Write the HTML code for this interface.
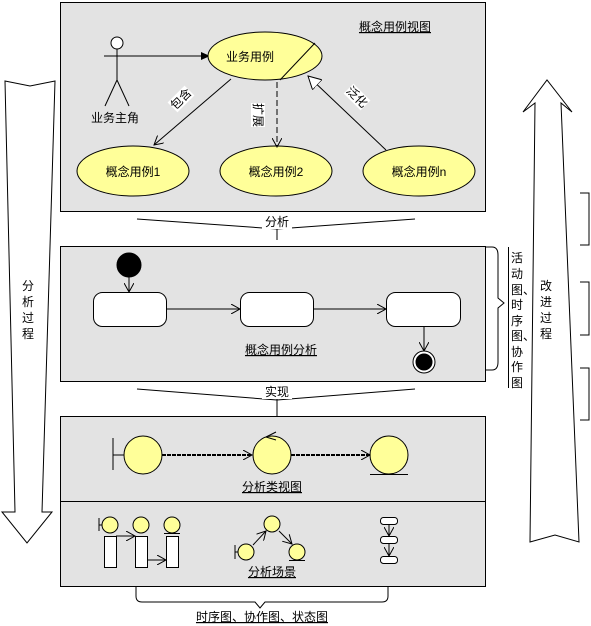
<!DOCTYPE html>
<html><head><meta charset="utf-8"><style>
body{margin:0;background:#fff}
svg{display:block}
text{font-family:"Liberation Sans","Noto Sans CJK SC","WenQuanYi Zen Hei",sans-serif;font-size:12px;fill:#000}
</style></head><body>
<svg width="591" height="626" viewBox="0 0 591 626" xmlns="http://www.w3.org/2000/svg">
<defs>
<marker id="op" markerWidth="10" markerHeight="10" refX="9" refY="5" orient="auto" markerUnits="userSpaceOnUse"><path d="M0,0 L9,5 L0,10" fill="none" stroke="#000"/></marker>
<marker id="fl" markerWidth="10" markerHeight="10" refX="9" refY="5" orient="auto" markerUnits="userSpaceOnUse"><path d="M0,1 L9,5 L0,9z" fill="#000"/></marker>
<marker id="tri" markerWidth="14" markerHeight="14" refX="13" refY="7" orient="auto" markerUnits="userSpaceOnUse"><path d="M0,0 L13,7 L0,14z" fill="#fff" stroke="#000"/></marker>
</defs>
<g stroke="#000" fill="none">
<!-- left arrow -->
<path d="M5,81 L30,86 L55,81 L42,512 L52,512 L27,543 L2,512 L15,512 Z" fill="#fff"/>
<!-- right arrow -->
<path d="M530,542 L555,535 L579,542 L561,103 L572,112 L547,80 L523,112 L535,103 Z" fill="#fff"/>
<!-- panels -->
<rect x="60.5" y="2.5" width="425" height="209" fill="#e3e3e3"/>
<rect x="60.5" y="246.5" width="425" height="135" fill="#e3e3e3"/>
<rect x="60.5" y="416.5" width="425" height="170" fill="#e3e3e3"/>
<line x1="60" y1="501.5" x2="486" y2="501.5"/>
<!-- funnels -->
<path d="M137,219 L277,229 L415,219 M277,229 L277,240"/>
<path d="M137,389 L277,400 L415,389 M277,386 L277,416"/>
<!-- right brackets -->
<path d="M580,193 H589 V245 H580 M580,282 H589 V335 H580 M580,368 H589 V420 H580"/>
<!-- brace -->
<path d="M486,247 H492 Q498,247 498,255 V298 L504,303 L498,308 V362 Q498,370 492,370 H486"/>
<line x1="508.5" y1="247" x2="508.5" y2="388"/>
<!-- bottom brace -->
<path d="M136,587 V596 Q136,602 142,602 H255 L260,608 L265,602 H382 Q388,602 388,596 V587"/>
<!-- actor -->
<circle cx="117" cy="43" r="6" fill="#fff"/>
<path d="M117,49 V80 M105,106 L117,80 L129,106"/>
<line x1="104" y1="56" x2="210" y2="56" marker-end="url(#fl)"/>
<!-- ellipses -->
<ellipse cx="265" cy="56" rx="57" ry="24" fill="#ffff99"/>
<line x1="315" y1="43" x2="280" y2="80"/>
<ellipse cx="133" cy="171" rx="56" ry="25" fill="#ffff99"/>
<ellipse cx="276" cy="171" rx="56" ry="25" fill="#ffff99"/>
<ellipse cx="419" cy="171" rx="56" ry="25" fill="#ffff99"/>
<line x1="231" y1="79" x2="154" y2="145" marker-end="url(#op)"/>
<line x1="277" y1="82" x2="277" y2="147" stroke-dasharray="6,3" marker-end="url(#op)"/>
<line x1="386" y1="150" x2="308" y2="76" marker-end="url(#tri)"/>
<!-- panel2 -->
<circle cx="129" cy="265" r="12" fill="#000"/>
<line x1="129" y1="277" x2="129" y2="292" marker-end="url(#op)"/>
<rect x="93.5" y="292.5" width="73" height="34" rx="9" fill="#fff"/>
<rect x="240.5" y="292.5" width="73" height="34" rx="9" fill="#fff"/>
<rect x="386.5" y="292.5" width="74" height="34" rx="9" fill="#fff"/>
<line x1="166" y1="309" x2="240" y2="309" marker-end="url(#op)"/>
<line x1="313" y1="309" x2="386" y2="309" marker-end="url(#op)"/>
<line x1="424" y1="327" x2="424" y2="351" marker-end="url(#op)"/>
<circle cx="424" cy="362" r="11" fill="#fff"/>
<circle cx="424" cy="362" r="8" fill="#000"/>
<!-- panel3 -->
<path d="M113,438 V470 M113,455 H124"/>
<circle cx="143" cy="455" r="19" fill="#ffff99"/>
<circle cx="272" cy="455" r="19" fill="#ffff99"/>
<path d="M266,437 L276,432 M266,437 L276,440"/>
<circle cx="389" cy="455" r="19" fill="#ffff99"/>
<line x1="370" y1="474.5" x2="408" y2="474.5"/>
<line x1="162" y1="455" x2="252" y2="455" stroke-width="2" stroke-dasharray="4,1" marker-end="url(#op)"/>
<line x1="291" y1="455" x2="370" y2="455" stroke-width="2" stroke-dasharray="4,1" marker-end="url(#op)"/>
<path d="M99,518 V531 M99,525 H102"/>
<circle cx="110" cy="525" r="8" fill="#ffff99"/>
<circle cx="141" cy="525" r="8" fill="#ffff99"/>
<circle cx="172" cy="525" r="8" fill="#ffff99"/>
<line x1="164" y1="533.5" x2="180" y2="533.5"/>
<rect x="104.5" y="536.5" width="12" height="31" fill="#fff"/>
<rect x="135.5" y="536.5" width="12" height="31" fill="#fff"/>
<rect x="166.5" y="536.5" width="12" height="31" fill="#fff"/>
<line x1="116" y1="536" x2="135" y2="536" marker-end="url(#op)"/>
<line x1="147" y1="560" x2="166" y2="560" marker-end="url(#op)"/>
<circle cx="272" cy="524" r="8" fill="#ffff99"/>
<circle cx="246" cy="552" r="8" fill="#ffff99"/>
<circle cx="297" cy="552" r="8" fill="#ffff99"/>
<path d="M235,545 V559 M235,552 H238 M289,560.5 H305"/>
<line x1="253" y1="545" x2="266" y2="531" marker-end="url(#op)"/>
<line x1="279" y1="531" x2="292" y2="544" marker-end="url(#op)"/>
<rect x="380.5" y="517.5" width="17" height="7" rx="3" fill="#fff"/>
<rect x="380.5" y="536.5" width="17" height="7" rx="3" fill="#fff"/>
<rect x="380.5" y="556.5" width="17" height="7" rx="3" fill="#fff"/>
<line x1="389" y1="525" x2="389" y2="536" marker-end="url(#op)"/>
<line x1="389" y1="544" x2="389" y2="556" marker-end="url(#op)"/>
</g>
<!-- texts -->
<text x="395" y="31" text-anchor="middle" text-decoration="underline">概念用例视图</text>
<text x="250" y="61" text-anchor="middle">业务用例</text>
<text x="115" y="122" text-anchor="middle">业务主角</text>
<text x="133" y="176" text-anchor="middle">概念用例1</text>
<text x="276" y="176" text-anchor="middle">概念用例2</text>
<text x="419" y="176" text-anchor="middle">概念用例n</text>
<g transform="translate(181,99) rotate(-45)"><rect x="-12" y="-7" width="24" height="14" fill="#fff"/><text x="0" y="4" text-anchor="middle">包含</text></g>
<g transform="translate(258,115) rotate(90)"><rect x="-12" y="-7" width="24" height="14" fill="#fff"/><text x="0" y="4" text-anchor="middle">扩展</text></g>
<g transform="translate(357,97) rotate(45)"><rect x="-12" y="-7" width="24" height="14" fill="#fff"/><text x="0" y="4" text-anchor="middle">泛化</text></g>
<rect x="262" y="215" width="30" height="14" fill="#fff"/>
<text x="277" y="226" text-anchor="middle">分析</text>
<text x="281" y="354" text-anchor="middle" text-decoration="underline">概念用例分析</text>
<rect x="262" y="385" width="30" height="14" fill="#fff"/>
<text x="277" y="396" text-anchor="middle">实现</text>
<text x="272" y="491" text-anchor="middle" text-decoration="underline">分析类视图</text>
<text x="272" y="576" text-anchor="middle" text-decoration="underline">分析场景</text>
<text x="262" y="621" text-anchor="middle" text-decoration="underline">时序图、协作图、状态图</text>
<g text-anchor="middle">
<text x="28" y="290">分</text><text x="28" y="306">析</text><text x="28" y="322">过</text><text x="28" y="338">程</text>
<text x="546" y="290">改</text><text x="546" y="306">进</text><text x="546" y="322">过</text><text x="546" y="338">程</text>
</g>
<g>
<text x="511" y="262">活</text><text x="511" y="278">动</text><text x="511" y="294">图、</text><text x="511" y="309">时</text><text x="511" y="325">序</text><text x="511" y="340">图、</text><text x="511" y="356">协</text><text x="511" y="371">作</text><text x="511" y="387">图</text>
</g>
</svg>
</body></html>
